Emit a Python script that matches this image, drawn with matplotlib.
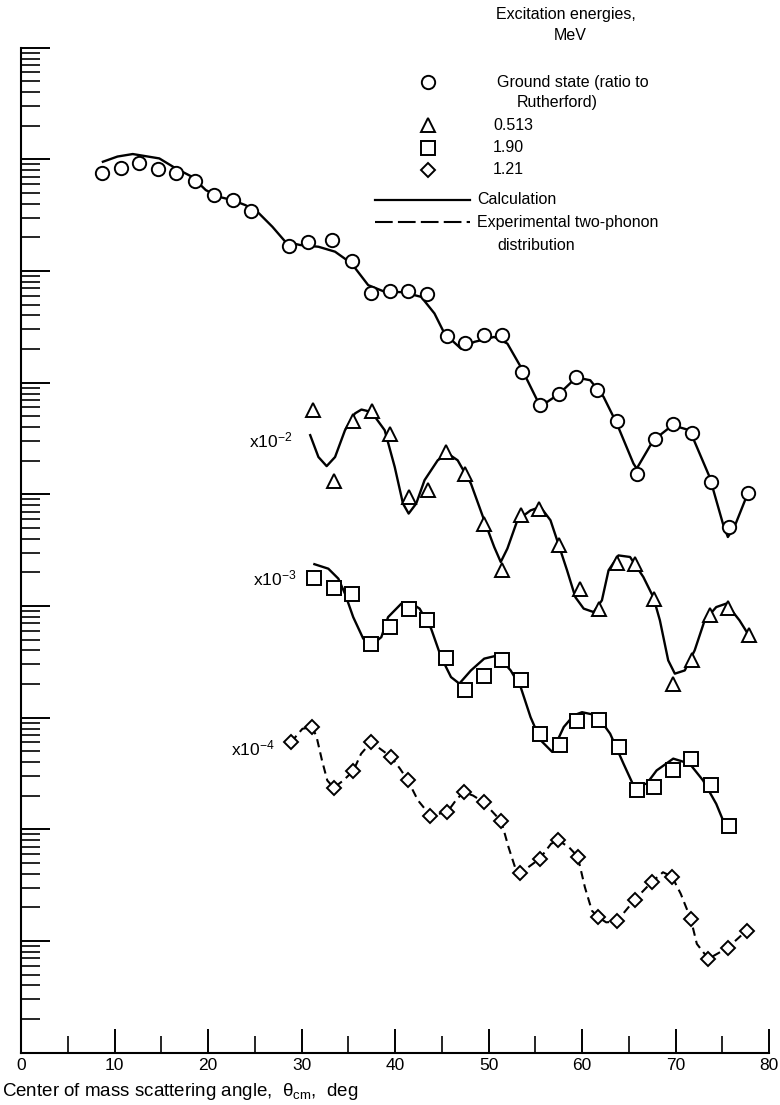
import numpy as np
import matplotlib
matplotlib.use("Agg")
from matplotlib import pyplot as plt
from matplotlib.lines import Line2D
from matplotlib.ticker import LogLocator, NullFormatter, MultipleLocator

# Ground state, ratio to Rutherford
gs_angle = [8.65, 10.71, 12.59, 14.60, 16.63, 18.65, 20.67, 22.69, 24.61, 28.69,
            30.74, 33.22, 35.35, 37.45, 39.44, 41.38, 43.44, 45.53, 47.52, 49.47,
            51.49, 53.62, 55.50, 57.55, 59.39, 61.60, 63.77, 65.85, 67.77, 69.68,
            71.81, 73.76, 75.77, 77.79]
gs_ratio = [0.750, 0.841, 0.920, 0.824, 0.750, 0.640, 0.475, 0.430, 0.344, 0.168,
            0.182, 0.191, 0.124, 0.0635, 0.0656, 0.0661, 0.0621, 0.0261, 0.0228, 0.0265,
            0.0270, 0.01256, 0.00628, 0.00794, 0.0112, 0.00857, 0.00455, 0.00153, 0.00310, 0.00425,
            0.00352, 0.00129, 0.000505, 0.00102]
gs_calc_angle = [8.76, 10.32, 11.95, 14.79, 16.56, 18.30, 19.76, 21.17, 22.59, 24.01,
                 25.43, 26.89, 28.27, 29.86, 31.81, 33.59, 35.35, 37.13, 38.90, 40.85,
                 42.80, 44.22, 45.29, 47.05, 48.48, 50.61, 52.02, 53.44, 55.21, 56.28,
                 57.55, 59.39, 60.88, 62.31, 63.72, 65.50, 65.85, 67.63, 69.68, 71.52,
                 73.65, 75.07, 75.60, 76.30, 77.73]
gs_calc = [0.952, 1.06, 1.116, 1.02, 0.830, 0.698, 0.531, 0.462, 0.432, 0.389,
           0.330, 0.249, 0.183, 0.171, 0.165, 0.149, 0.117, 0.0748, 0.0652, 0.0647,
           0.0587, 0.0417, 0.0276, 0.0202, 0.0232, 0.0257, 0.0224, 0.0139, 0.00697, 0.00673,
           0.00794, 0.01114, 0.01052, 0.00746, 0.00431, 0.00189, 0.00170, 0.00305, 0.00416, 0.00375,
           0.00143, 0.000547, 0.000415, 0.000511, 0.00102]

# 0.513 MeV, plotted x10^-2
e513_angle = [31.24, 33.51, 35.53, 37.59, 39.44, 41.46, 43.51, 45.50, 47.52, 49.47,
              51.49, 53.44, 55.39, 57.52, 59.76, 61.78, 63.72, 65.67, 67.69, 69.76,
              71.81, 73.65, 75.61, 77.84]
e513 = [0.567, 0.131, 0.455, 0.556, 0.346, 0.0948, 0.110, 0.238, 0.153, 0.0547,
        0.0209, 0.0650, 0.0746, 0.0350, 0.0141, 0.00948, 0.0243, 0.0240, 0.01156, 0.00202,
        0.00326, 0.00826, 0.00968, 0.00546]
e513_calc_angle = [30.93, 31.81, 32.69, 33.59, 34.65, 35.71, 36.41, 37.48, 38.90, 39.97,
                   40.85, 41.46, 42.27, 43.16, 44.57, 45.64, 46.70, 48.12, 49.54, 50.61,
                   51.31, 52.02, 53.09, 54.50, 55.56, 56.63, 57.52, 58.40, 59.29, 60.18,
                   61.24, 62.13, 62.84, 63.90, 65.14, 66.56, 67.63, 68.33, 69.22, 69.93,
                   70.99, 72.05, 73.12, 74.36, 75.43, 76.84, 77.73]
e513_calc = [0.339, 0.216, 0.179, 0.216, 0.375, 0.530, 0.575, 0.547, 0.375, 0.176,
             0.0828, 0.0673, 0.0828, 0.134, 0.202, 0.232, 0.202, 0.125, 0.0586, 0.0338,
             0.0248, 0.0327, 0.0586, 0.0719, 0.0771, 0.0586, 0.0350, 0.0209, 0.0120, 0.00948,
             0.00883, 0.01125, 0.0209, 0.0284, 0.0275, 0.0182, 0.0120, 0.00745, 0.00326, 0.00248,
             0.00265, 0.00401, 0.00745, 0.00979, 0.01052, 0.00745, 0.00566]

# 1.90 MeV, plotted x10^-3
e190_angle = [31.38, 33.51, 35.43, 37.48, 39.47, 41.46, 43.44, 45.46, 47.48, 49.54,
              51.49, 53.44, 55.56, 57.63, 59.47, 61.78, 63.94, 65.93, 67.69, 69.68,
              71.70, 73.83, 75.71]
e190 = [0.179, 0.145, 0.129, 0.0454, 0.0649, 0.0948, 0.0755, 0.0345, 0.0176, 0.0234,
        0.0326, 0.0216, 0.00719, 0.00565, 0.00927, 0.00959, 0.00546, 0.00223, 0.00239, 0.00337,
        0.00430, 0.00248, 0.00108]
e190_calc_angle = [31.38, 32.87, 33.94, 34.65, 35.53, 36.60, 37.48, 38.54, 39.26, 40.67,
                   41.73, 42.63, 43.86, 44.93, 45.99, 46.88, 48.12, 49.54, 50.96, 52.37,
                   53.44, 54.50, 55.56, 56.81, 58.05, 59.12, 60.00, 61.60, 63.01, 64.44,
                   65.50, 66.91, 67.98, 69.76, 71.52, 72.95, 74.36, 75.24]
e190_calc = [0.237, 0.216, 0.176, 0.129, 0.0796, 0.0511, 0.0445, 0.0527, 0.0796, 0.105,
             0.106, 0.0948, 0.0628, 0.0349, 0.0231, 0.0202, 0.0265, 0.0338, 0.0361, 0.0265,
             0.0188, 0.0101, 0.00630, 0.00494, 0.00826, 0.0105, 0.0112, 0.0105, 0.00719, 0.00387,
             0.00248, 0.00256, 0.00337, 0.00430, 0.00387, 0.00274, 0.00169, 0.00112]

# 1.21 MeV, plotted x10^-4, with the experimental two-phonon distribution
e121_angle = [28.88, 31.16, 33.45, 35.53, 37.44, 39.60, 41.38, 43.78, 45.60, 47.38,
              49.48, 51.37, 53.39, 55.48, 57.46, 59.54, 61.74, 63.72, 65.63, 67.45,
              69.62, 71.63, 73.52, 75.57, 77.60]
e121 = [0.0604, 0.0824, 0.0236, 0.0333, 0.0604, 0.0444, 0.0274, 0.0133, 0.0143, 0.0215,
        0.0175, 0.0118, 0.00405, 0.00546, 0.00796, 0.00571, 0.00163, 0.00150, 0.00234, 0.00337,
        0.00378, 0.00158, 0.000693, 0.000869, 0.00124]
e121_exp_angle = [28.88, 30.10, 31.16, 31.62, 32.19, 32.76, 33.45, 34.47, 35.53, 36.37,
                  37.44, 38.65, 39.60, 40.54, 41.38, 42.45, 43.78, 45.60, 46.63, 47.38,
                  48.34, 49.48, 51.37, 52.14, 52.89, 53.39, 55.48, 56.69, 57.46, 58.60,
                  59.54, 60.31, 61.06, 61.74, 62.59, 63.72, 65.63, 67.45, 68.66, 69.62,
                  70.56, 71.63, 72.28, 73.52, 75.57, 77.60]
e121_exp = [0.0604, 0.0796, 0.0824, 0.0670, 0.0415, 0.0274, 0.0236, 0.0274, 0.0333, 0.0475,
            0.0604, 0.0509, 0.0444, 0.0349, 0.0274, 0.0182, 0.0133, 0.0143, 0.0188, 0.0215,
            0.0201, 0.0175, 0.0118, 0.00693, 0.00444, 0.00405, 0.00546, 0.00743, 0.00796, 0.00693,
            0.00571, 0.00303, 0.00187, 0.00163, 0.00147, 0.00150, 0.00234, 0.00337, 0.00413, 0.00378,
            0.00265, 0.00158, 0.000944, 0.000693, 0.000869, 0.00124]

scale_factors = [1e-2, 1e-3, 1e-4]
scale_labels = [r"x10$^{-2}$", r"x10$^{-3}$", r"x10$^{-4}$"]

W, H = 780, 1105


def fx(px):
    return px / W


def fy(py):
    return 1 - py / H


def main():
    plt.rcParams['font.family'] = ['Liberation Sans', 'DejaVu Sans']
    plt.rcParams['mathtext.default'] = 'regular'
    plt.rcParams['font.size'] = 11.5

    fig = plt.figure(figsize=(W / 100, H / 100), dpi=100)
    ax = fig.add_axes([fx(21), (H - 1052.7) / H, 748 / W, 1005 / H])

    pts = dict(color='black', linestyle='none', markerfacecolor='white',
               markeredgecolor='black', markeredgewidth=1.4, zorder=3)
    calc = dict(color='black', linewidth=1.7, solid_joinstyle='round', zorder=2)

    ax.plot(gs_calc_angle, gs_calc, **calc)
    ax.plot(gs_angle, gs_ratio, marker='o', markersize=9.6, **pts)

    s2, s3, s4 = scale_factors
    ax.plot(e513_calc_angle, np.array(e513_calc) * s2, **calc)
    ax.plot(e513_angle, np.array(e513) * s2, marker='^', markersize=10, **pts)

    ax.plot(e190_calc_angle, np.array(e190_calc) * s3, **calc)
    ax.plot(e190_angle, np.array(e190) * s3, marker='s', markersize=9.4, **pts)

    ax.plot(e121_exp_angle, np.array(e121_exp) * s4, color='black', linewidth=1.5,
            dashes=(4, 2.5), zorder=2)
    ax.plot(e121_angle, np.array(e121) * s4, marker='D', markersize=7, **pts)

    # scale labels next to each curve
    ax.text(29.0, 2.64e-3, scale_labels[0], ha='right', va='baseline', fontsize=12.5)
    ax.text(29.5, 1.53e-4, scale_labels[1], ha='right', va='baseline', fontsize=12.5)
    ax.text(27.1, 4.59e-6, scale_labels[2], ha='right', va='baseline', fontsize=12.5)

    ax.set_yscale('log')
    ax.set_xlim(0, 80)
    ax.set_ylim(1e-8, 1e1)
    ax.yaxis.set_major_locator(LogLocator(base=10, numticks=20))
    ax.yaxis.set_minor_locator(LogLocator(base=10, subs=np.arange(2, 10), numticks=20))
    ax.yaxis.set_major_formatter(NullFormatter())
    ax.yaxis.set_minor_formatter(NullFormatter())
    ax.xaxis.set_major_locator(MultipleLocator(10))
    ax.xaxis.set_minor_locator(MultipleLocator(5))
    ax.yaxis.set_ticks_position('left')
    ax.xaxis.set_ticks_position('bottom')
    ax.tick_params(axis='y', which='major', direction='in', length=21, width=1.4)
    ax.tick_params(axis='y', which='minor', direction='in', length=14, width=1.2)
    ax.tick_params(axis='x', which='major', direction='in', length=17, width=1.4,
                   labelsize=12.5, pad=4)
    ax.tick_params(axis='x', which='minor', direction='in', length=12, width=1.2)
    for side in ['top', 'right']:
        ax.spines[side].set_visible(False)
    for side in ['left', 'bottom']:
        ax.spines[side].set_linewidth(1.5)

    ax.set_xlabel(r"Center of mass scattering angle,  $\theta_{cm}$,  deg", loc='left',
                  fontsize=13.5)
    ax.xaxis.set_label_coords(-19 / 748, -(1092 - 1052.7) / 1005)
    ax.xaxis.label.set_va('center')

    # legend, drawn by hand
    fig.text(fx(566), fy(15), "Excitation energies,", ha='center', va='center')
    fig.text(fx(570), fy(36), "MeV", ha='center', va='center')
    keys = [('o', 9.6, 82, 497, "Ground state (ratio to"),
            ('^', 10, 125, 493, "0.513"),
            ('s', 9.4, 148, 493, "1.90"),
            ('D', 7, 170, 493, "1.21")]
    for mk, ms, y, tx, label in keys:
        fig.add_artist(Line2D([fx(428)], [fy(y)], marker=mk, markersize=ms,
                              transform=fig.transFigure, **pts))
        fig.text(fx(tx), fy(y), label, ha='left', va='center')
    fig.text(fx(517), fy(103), "Rutherford)", ha='left', va='center')

    fig.add_artist(Line2D([fx(375), fx(470)], [fy(200), fy(200)],
                          transform=fig.transFigure, color='black', linewidth=1.6))
    fig.text(fx(477), fy(200), "Calculation", ha='left', va='center')
    fig.add_artist(Line2D([fx(375), fx(470)], [fy(222), fy(222)],
                          transform=fig.transFigure, color='black', linewidth=1.5,
                          dashes=(8.5, 2.5)))
    fig.text(fx(477), fy(222), "Experimental two-phonon", ha='left', va='center')
    fig.text(fx(497), fy(245), "distribution", ha='left', va='center')

    fig.savefig("out.png", dpi=100)
    plt.close(fig)


if __name__ == "__main__":
    main()
